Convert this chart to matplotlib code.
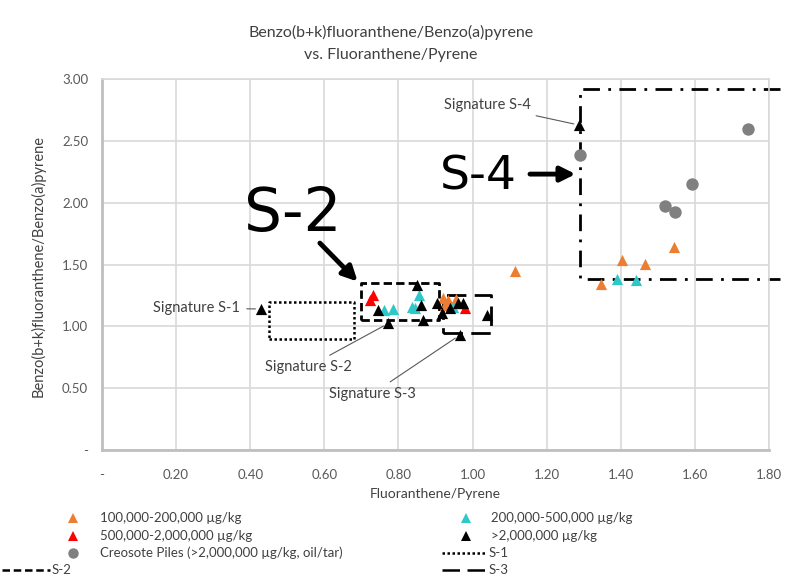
import matplotlib
matplotlib.use("Agg")
import matplotlib.pyplot as plt
from matplotlib.lines import Line2D
from matplotlib.ticker import FixedLocator, FixedFormatter

plt.rcParams['font.family'] = ['Lato', 'DejaVu Sans']

# ---- data -------------------------------------------------------------
orange_x = [0.919, 0.926, 0.935, 0.955, 1.114, 1.346, 1.404, 1.466, 1.544]
orange_y = [1.226, 1.172, 1.213, 1.220, 1.447, 1.342, 1.536, 1.504, 1.644]

cyan_x = [0.762, 0.786, 0.836, 0.845, 0.856, 0.948, 1.391, 1.440]
cyan_y = [1.132, 1.137, 1.159, 1.145, 1.253, 1.159, 1.380, 1.374]

red_x = [0.723, 0.732, 0.980]
red_y = [1.213, 1.253, 1.145]

black_x = [0.744, 0.849, 0.861, 0.867, 0.903, 0.939, 0.962, 0.975, 0.917, 1.040,
           0.429, 0.773, 0.966, 1.288]
black_y = [1.132, 1.334, 1.172, 1.050, 1.186, 1.145, 1.186, 1.186, 1.105, 1.090,
           1.140, 1.024, 0.930, 2.627]

creosote_x = [1.290, 1.519, 1.546, 1.591, 1.742]
creosote_y = [2.385, 1.975, 1.927, 2.150, 2.593]

# signature boxes: (x_min, x_max, y_min, y_max)
s1_box = (0.45, 0.68, 0.90, 1.20)
s2_box = (0.70, 0.91, 1.05, 1.35)
s3_box = (0.92, 1.05, 0.95, 1.25)
s4_box = (1.29, 1.83, 1.38, 2.92)

# signature callouts: label, sample point it refers to, label position
sig_labels = ["Signature S-1", "Signature S-2", "Signature S-3", "Signature S-4"]
sig_points = [(0.429, 1.140), (0.773, 1.024), (0.966, 0.930), (1.288, 2.627)]
sig_text = [(0.372, 1.148), (0.556, 0.671), (0.729, 0.453), (1.039, 2.789)]

x_ticks = [0, 0.2, 0.4, 0.6, 0.8, 1.0, 1.2, 1.4, 1.6, 1.8]
x_labels = ["-", "0.20", "0.40", "0.60", "0.80", "1.00", "1.20", "1.40", "1.60", "1.80"]
y_ticks = [0, 0.5, 1.0, 1.5, 2.0, 2.5, 3.0]
y_labels = ["-", "0.50", "1.00", "1.50", "2.00", "2.50", "3.00"]

C_ORANGE = "#ED7D31"
C_CYAN = "#2EC8C8"
C_RED = "#FF0000"
C_BLACK = "#000000"
C_GRAY = "#808080"
TXT = "#404040"

W, H = 796, 578
fig = plt.figure(figsize=(W / 100, H / 100), dpi=100)
ax = fig.add_axes([102 / W, 1 - 450 / H, (769 - 102) / W, (450 - 79) / H])

ax.set_xlim(0, 1.8)
ax.set_ylim(0, 3.0)
ax.xaxis.set_major_locator(FixedLocator(x_ticks))
ax.xaxis.set_major_formatter(FixedFormatter(x_labels))
ax.yaxis.set_major_locator(FixedLocator(y_ticks))
ax.yaxis.set_major_formatter(FixedFormatter(y_labels))
ax.tick_params(length=0, labelsize=9.5, labelcolor="#595959", pad=14)
ax.tick_params(axis="y", pad=10)
ax.grid(True, color="#D9D9D9", lw=1.2)
ax.set_axisbelow(True)
for side in ("top", "right"):
    ax.spines[side].set_color("#D9D9D9")
    ax.spines[side].set_linewidth(1.2)
for side in ("left", "bottom"):
    ax.spines[side].set_color("#BFBFBF")
    ax.spines[side].set_linewidth(2.0)

# signature boxes
def box(b, **kw):
    x0, x1, y0, y1 = b
    ax.plot([x0, x1, x1, x0, x0], [y0, y0, y1, y1, y0], color="black", zorder=2,
            clip_on=False, **kw)

box(s1_box, lw=1.8, linestyle=(0, (1, 1)))
box(s2_box, lw=2.0, linestyle=(0, (3, 1.5)))
box(s3_box, lw=2.0, linestyle=(0, (7, 3)))
x0, x1, y0, y1 = s4_box
ax.plot([x1, x0, x0, x1], [y1, y1, y0, y0], color="black", lw=2.0,
        linestyle=(0, (6, 3, 1, 3)), clip_on=False, zorder=2)

# data series
ms_tri = 65
ax.scatter(orange_x, orange_y, marker="^", s=ms_tri, color=C_ORANGE, zorder=3, linewidths=0)
ax.scatter(cyan_x, cyan_y, marker="^", s=ms_tri, color=C_CYAN, zorder=3, linewidths=0)
ax.scatter(red_x, red_y, marker="^", s=ms_tri, color=C_RED, zorder=3, linewidths=0)
ax.scatter(black_x, black_y, marker="^", s=ms_tri, color=C_BLACK, zorder=4, linewidths=0)
ax.scatter(creosote_x, creosote_y, marker="o", s=80, color=C_GRAY, zorder=3, linewidths=0)

# signature callouts
for lab, pt, txt in zip(sig_labels, sig_points, sig_text):
    ha = "right" if lab.endswith("S-1") else "center"
    ax.annotate(lab, xy=pt, xytext=txt, ha=ha, va="center", fontsize=10.5, color=TXT,
                arrowprops=dict(arrowstyle="-", color="#595959", lw=0.8,
                                shrinkA=3, shrinkB=4),
                zorder=5)

# large S-2 / S-4 markers
ax.text(0.515, 1.905, "S-2", fontsize=43, family="DejaVu Sans", ha="center", va="center", zorder=6)
ax.text(1.015, 2.205, "S-4", fontsize=34, family="DejaVu Sans", ha="center", va="center", zorder=6)
ax.annotate("", xy=(0.690, 1.362), xytext=(0.588, 1.673),
            arrowprops=dict(arrowstyle="-|>", color="black", lw=3.5, mutation_scale=22,
                            shrinkA=0, shrinkB=0), zorder=6)
ax.annotate("", xy=(1.278, 2.231), xytext=(1.155, 2.231),
            arrowprops=dict(arrowstyle="-|>", color="black", lw=3.5, mutation_scale=22,
                            shrinkA=0, shrinkB=0), zorder=6)

# titles
fig.text(391 / W, 1 - 32 / H, "Benzo(b+k)fluoranthene/Benzo(a)pyrene", ha="center", va="center",
         fontsize=11.5, color=TXT)
fig.text(391 / W, 1 - 55 / H, "vs. Fluoranthene/Pyrene", ha="center", va="center",
         fontsize=11.5, color=TXT)
fig.text(435 / W, 1 - 494 / H, "Fluoranthene/Pyrene", ha="center", va="center",
         fontsize=10, color=TXT)
fig.text(38 / W, 1 - 266 / H, "Benzo(b+k)fluoranthene/Benzo(a)pyrene", ha="center", va="center",
         rotation=90, fontsize=10.5, color=TXT)

# legend
def px(x, y):
    return x / W, 1 - y / H

def leg_marker(x, y, marker, color, size):
    fig.add_artist(Line2D([px(x, y)[0]], [px(x, y)[1]], marker=marker, color=color,
                          markersize=size, linestyle="none", markeredgewidth=0,
                          transform=fig.transFigure))

def leg_line(xa, xb, y, ls):
    fig.add_artist(Line2D([px(xa, y)[0], px(xb, y)[0]], [px(xa, y)[1]] * 2, color="black",
                          lw=1.8, linestyle=ls, transform=fig.transFigure))

def leg_text(x, y, s):
    fig.text(*px(x, y), s, ha="left", va="center", fontsize=9.5, color=TXT)

rows = [518, 536, 553, 570]
leg_marker(73, rows[0], "^", C_ORANGE, 7.5); leg_text(100, rows[0], "100,000-200,000 µg/kg")
leg_marker(73, rows[1], "^", C_RED, 7.5); leg_text(100, rows[1], "500,000-2,000,000 µg/kg")
leg_marker(73, rows[2], "o", C_GRAY, 7.5); leg_text(100, rows[2], "Creosote Piles (>2,000,000 µg/kg, oil/tar)")
leg_line(2, 50, rows[3], (0, (3, 1.5))); leg_text(52, rows[3], "S-2")
leg_marker(466, rows[0], "^", C_CYAN, 7.5); leg_text(491, rows[0], "200,000-500,000 µg/kg")
leg_marker(466, rows[1], "^", C_BLACK, 7.5); leg_text(491, rows[1], ">2,000,000 µg/kg")
leg_line(442, 487, rows[2], (0, (1, 1))); leg_text(489, rows[2], "S-1")
leg_line(442, 487, rows[3], (0, (7, 3))); leg_text(489, rows[3], "S-3")

fig.savefig("out.png", dpi=100)
